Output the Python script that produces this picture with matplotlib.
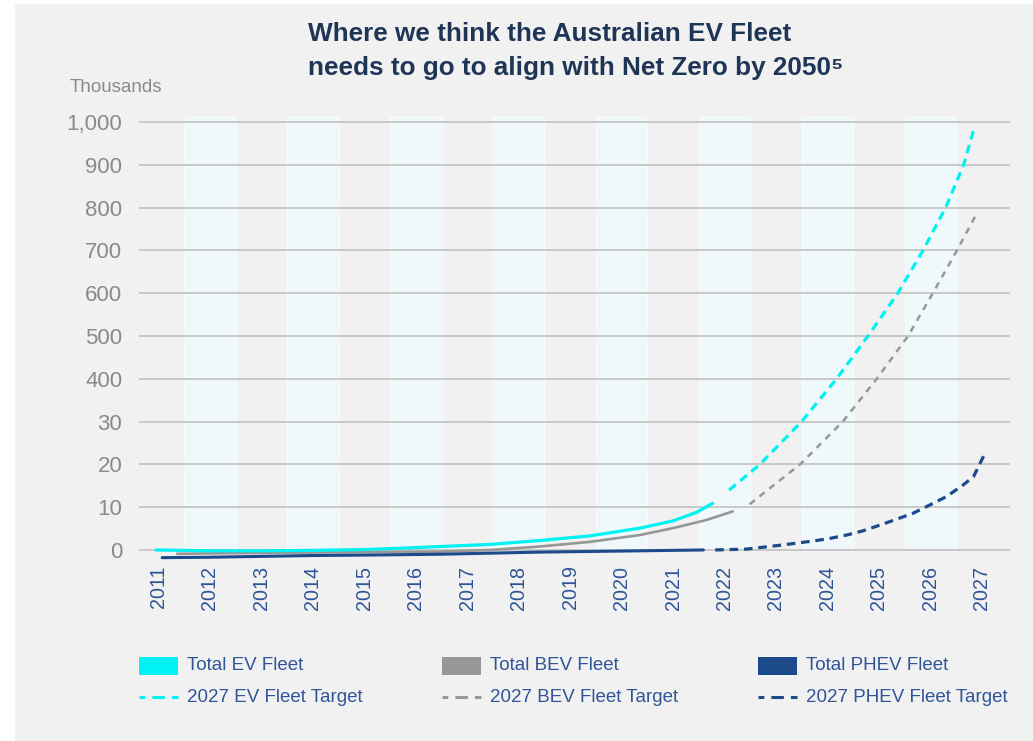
import matplotlib
matplotlib.use('Agg')
import matplotlib.pyplot as plt
import matplotlib.transforms as mtransforms
from matplotlib.patches import Rectangle
from matplotlib.lines import Line2D

plt.rcParams['font.family'] = ['Liberation Sans', 'DejaVu Sans']

# ---------------- data (thousands of vehicles) ----------------
years = list(range(2011, 2028))
stripe_years = [2012, 2014, 2016, 2018, 2020, 2022, 2024, 2026]
y_ticks = [0, 100, 200, 300, 400, 500, 600, 700, 800, 900, 1000]
y_labels = ['0', '10', '20', '30', '400', '500', '600', '700', '800', '900', '1,000']

ev_x = [2010.95, 2012, 2013, 2014, 2015, 2015.69, 2016.47, 2017.44, 2018.41, 2019.39,
        2020.36, 2021.00, 2021.46, 2021.77]
ev_y = [0, -2, -2, -1, 1, 4, 8, 13, 22, 33, 51, 68, 88, 109]

bev_x = [2011.36, 2012, 2013, 2014, 2015, 2016.47, 2017.44, 2018.41, 2019.39, 2020.36,
         2021.00, 2021.65, 2022.16]
bev_y = [-9, -8, -7, -6, -5, -4, 0, 8, 19, 35, 51, 70, 90]

phev_x = [2011.07, 2012, 2013, 2014, 2015, 2016.47, 2018.41, 2020.36, 2021.59]
phev_y = [-18, -17, -15, -13, -12, -10, -5, -2, 0]

ev_target_x = [2022.09, 2022.69, 2023.50, 2024.18, 2024.79, 2025.37, 2025.86, 2026.30, 2026.65, 2026.85]
ev_target_y = [140, 200, 300, 400, 500, 600, 700, 800, 900, 984]

bev_target_x = [2022.49, 2023.47, 2024.30, 2024.96, 2025.57, 2026.05, 2026.52, 2026.92]
bev_target_y = [107, 200, 300, 400, 500, 600, 700, 790]

phev_target_x = [2021.82, 2022.43, 2023.08, 2023.73, 2024.05, 2024.38, 2024.70, 2025.02,
                 2025.35, 2025.67, 2025.99, 2026.32, 2026.64, 2026.84, 2027.04]
phev_target_y = [0, 2, 11, 21, 27, 35, 45, 58, 72, 86, 105, 125, 152, 171, 220]

legend_labels = ['Total EV Fleet', 'Total BEV Fleet', 'Total PHEV Fleet',
                 '2027 EV Fleet Target', '2027 BEV Fleet Target', '2027 PHEV Fleet Target']

# ---------------- styling ----------------
C_EV = '#00f2f2'
C_BEV = '#979797'
C_PHEV = '#1c4a8a'
C_TEXT_BLUE = '#2f5597'
C_GRAY_TEXT = '#8a8a8a'
C_TITLE = '#1f3556'

W, H = 1033, 741
fig = plt.figure(figsize=(W / 100, H / 100), dpi=100)
fig.patch.set_facecolor('white')


def fx(px):
    return px / W


def fy(py):
    return 1 - py / H


fig.add_artist(Rectangle((fx(15), 0), 1 - fx(15), fy(4), transform=fig.transFigure,
                         facecolor='#f1f1f1', edgecolor='none', zorder=0))

y_top, y_bot = 1012, -30
ax = fig.add_axes([fx(139), fy(562.8), fx(1010) - fx(139), fy(116.8) - fy(562.8)])
ax.set_facecolor('none')
ax.set_xlim(2010.62, 2027.55)
ax.set_ylim(y_bot, y_top)
for s in ax.spines.values():
    s.set_visible(False)

ax.bar(stripe_years, [y_top] * len(stripe_years), width=1.0, bottom=0,
       color='#eff8fa', edgecolor='#f8fcfd', linewidth=0.8, zorder=1)
for v in y_ticks:
    ax.axhline(v, color='#c8c8c8', lw=1.4, zorder=2)

ax.plot(ev_x, ev_y, color=C_EV, lw=2.3, zorder=4, solid_capstyle='round', solid_joinstyle='round')
ax.plot(bev_x, bev_y, color=C_BEV, lw=1.9, zorder=3, solid_capstyle='round', solid_joinstyle='round')
ax.plot(phev_x, phev_y, color=C_PHEV, lw=2.2, zorder=3, solid_capstyle='round', solid_joinstyle='round')
ax.plot(ev_target_x, ev_target_y, color=C_EV, lw=2.3, dashes=(2.7, 1.8), zorder=4)
ax.plot(bev_target_x, bev_target_y, color=C_BEV, lw=1.8, dashes=(2.6, 2.4), zorder=3)
ax.plot(phev_target_x, phev_target_y, color=C_PHEV, lw=2.3, dashes=(2.7, 1.8), zorder=3)

ax.set_xticks(years)
ax.set_xticklabels([str(y) for y in years], rotation=90, fontsize=14.2, color=C_TEXT_BLUE)
shift = mtransforms.ScaledTranslation(3 / 100, 0, fig.dpi_scale_trans)
for lbl in ax.get_xticklabels():
    lbl.set_transform(lbl.get_transform() + shift)
ax.set_yticks(y_ticks)
ax.set_yticklabels(y_labels, fontsize=16, color=C_GRAY_TEXT)
ax.tick_params(axis='x', length=0, pad=2)
ax.tick_params(axis='y', length=0, pad=12)

# title
fig.text(fx(308), fy(34), 'Where we think the Australian EV Fleet', ha='left', va='center',
         fontsize=18.8, fontweight='bold', color=C_TITLE)
fig.text(fx(308), fy(68), 'needs to go to align with Net Zero by 2050\u2075', ha='left', va='center',
         fontsize=18.8, fontweight='bold', color=C_TITLE)
fig.text(fx(70), fy(88), 'Thousands', ha='left', va='center', fontsize=13.5, color=C_GRAY_TEXT)

# legend (manual, three columns)
col_x = [139, 442, 758]
colors = [C_EV, C_BEV, C_PHEV]
row1, row2 = 666, 697
for i, (x0, c) in enumerate(zip(col_x, colors)):
    fig.add_artist(Rectangle((fx(x0), fy(675)), fx(39), fy(657) - fy(675), transform=fig.transFigure,
                             facecolor=c, edgecolor='none'))
    fig.add_artist(Line2D([fx(x0), fx(x0 + 39)], [fy(row2), fy(row2)], transform=fig.transFigure,
                          color=c, lw=2.2, linestyle=(2.2, (4.1, 2.3))))
    fig.text(fx(x0 + 48), fy(row1), legend_labels[i], ha='left', va='center',
             fontsize=13.5, color=C_TEXT_BLUE)
    fig.text(fx(x0 + 48), fy(row2), legend_labels[i + 3], ha='left', va='center',
             fontsize=13.5, color=C_TEXT_BLUE)

fig.savefig('out.png', dpi=100, facecolor=fig.get_facecolor())
